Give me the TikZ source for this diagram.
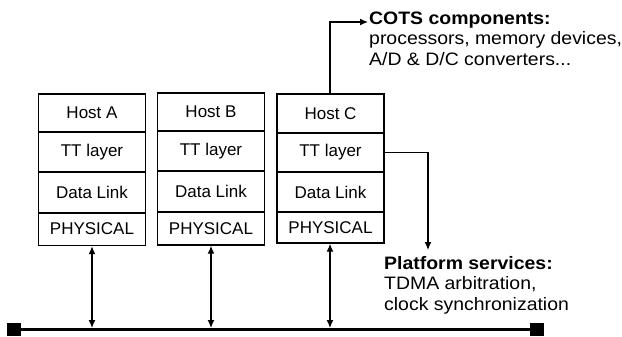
\documentclass[tikz,border=0pt]{standalone}
\usepackage{fontspec}
\setmainfont{Liberation Sans}
\newfontfamily\annfont[FakeStretch=1.08]{Liberation Sans}
\usetikzlibrary{arrows.meta}
\tikzset{
  rowbox/.style={draw, line width=1.4pt, minimum width=107pt, inner sep=0pt,
    font=\fontsize{17}{20}\selectfont},
  link/.style={line width=1.3pt, -{Latex[length=8pt,width=7pt]}},
  dlink/.style={line width=1.3pt, {Latex[length=8pt,width=7pt]}-{Latex[length=8pt,width=7pt]}},
  bus/.style={line width=3pt},
  term/.style={fill=black, minimum width=14pt, minimum height=13pt, inner sep=0pt},
  ann/.style={align=left, anchor=north west, inner sep=0pt, font=\annfont\fontsize{18}{20.5}\selectfont}
}
\begin{document}
\begin{tikzpicture}[x=1pt,y=-1pt]
\useasboundingbox (0,0) rectangle (622,337);
% Host A
\node[rowbox, minimum height=38pt] (a1) at (92,113) {Host A};
\node[rowbox, minimum height=40pt] (a2) at (92,152) {TT layer};
\node[rowbox, minimum height=41pt] (a3) at (92,192.5) {Data Link};
\node[rowbox, minimum height=33pt] (a4) at (92,229) {PHYSICAL};
% Host B
\node[rowbox, minimum height=38pt] (b1) at (211,112) {Host B};
\node[rowbox, minimum height=40pt] (b2) at (211,151) {TT layer};
\node[rowbox, minimum height=41pt] (b3) at (211,191.5) {Data Link};
\node[rowbox, minimum height=33pt] (b4) at (211,228.5) {PHYSICAL};
% Host C
\node[rowbox, minimum height=39pt] (c1) at (330.5,113.5) {Host C};
\node[rowbox, minimum height=39pt] (c2) at (330.5,152.5) {TT layer};
\node[rowbox, minimum height=40pt] (c3) at (330.5,192) {Data Link};
\node[rowbox, minimum height=31pt] (c4) at (330.5,227.5) {PHYSICAL};
% bus
\node[term] (bl) at (14,329.5) {};
\node[term] (br) at (537,329.5) {};
\draw[bus] (bl.center) -- (br.center);
\coordinate (busa) at (92,328);
\coordinate (busb) at (211,328);
\coordinate (busc) at (330,328);
\draw[dlink] (a4.south) -- (busa);
\draw[dlink] (b4.south) -- (busb);
\draw[dlink] (c4.south -| busc) -- (busc);
% annotations
\node[ann] (cots) at (369,11.5) {\textbf{COTS components:}\\processors, memory devices,\\A/D \& D/C converters...};
\coordinate (cotsin) at (368,22);
\draw[link] (c1.north -| busc) |- (cotsin);
\node[ann] (plat) at (384,256) {\textbf{Platform services:}\\TDMA arbitration,\\clock synchronization};
\coordinate (platin) at (428,250);
\draw[link] (c2.east) -| (platin);
\end{tikzpicture}
\end{document}
